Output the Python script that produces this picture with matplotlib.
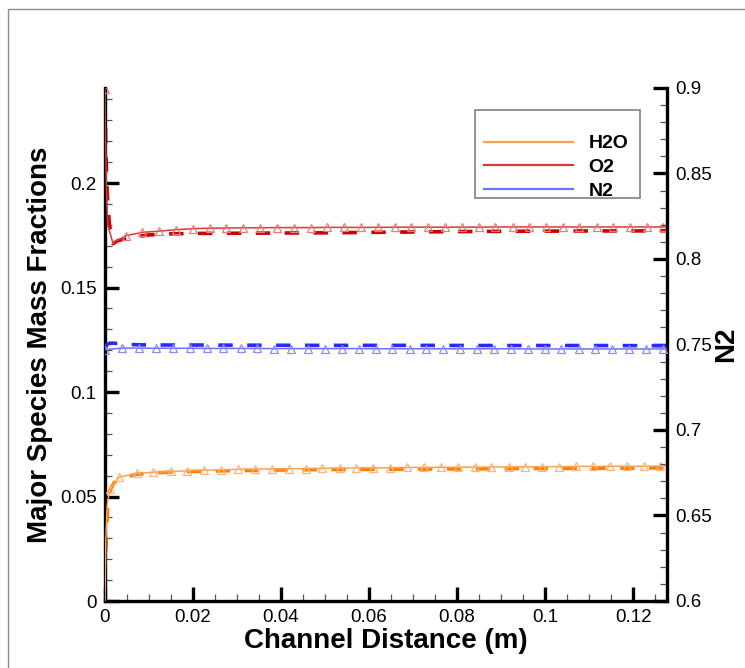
import matplotlib
matplotlib.use("Agg")
import matplotlib.pyplot as plt
from matplotlib.lines import Line2D
from matplotlib.patches import Rectangle
from matplotlib.ticker import MultipleLocator, FuncFormatter

plt.rcParams['font.family'] = ['Liberation Sans', 'DejaVu Sans']

## channel profiles (x in m), solid = with symbols, dashed = second case
h2o_x = [0.0, 0.0002, 0.0005, 0.0011, 0.0032,
         0.0072, 0.0110, 0.0149, 0.0187, 0.0226, 0.0264, 0.0302, 0.0341, 0.0379, 0.0418,
         0.0456, 0.0494, 0.0533, 0.0571, 0.0610, 0.0648, 0.0686, 0.0725, 0.0763, 0.0802,
         0.0840, 0.0878, 0.0917, 0.0955, 0.0994, 0.1032, 0.1070, 0.1109, 0.1147, 0.1186,
         0.1224, 0.1262, 0.1277]
h2o_y = [0.0, 0.030, 0.046, 0.0536, 0.0593,
         0.0611, 0.0616, 0.0620, 0.0623, 0.0626, 0.0628, 0.0630, 0.0631, 0.0632, 0.0633,
         0.0634, 0.0635, 0.0636, 0.0637, 0.0637, 0.0638, 0.0639, 0.0639, 0.0640, 0.0640,
         0.0641, 0.0641, 0.0642, 0.0642, 0.0643, 0.0643, 0.0644, 0.0644, 0.0645, 0.0645,
         0.0645, 0.0646, 0.0646]
h2o_dash_x = [0.0, 0.0003, 0.0006, 0.001, 0.002, 0.004, 0.007, 0.010, 0.015, 0.020, 0.030,
              0.040, 0.050, 0.060, 0.070, 0.080, 0.090, 0.100, 0.110, 0.120, 0.1277]
h2o_dash_y = [0.010, 0.030, 0.045, 0.052, 0.0565, 0.059, 0.0606, 0.0612, 0.0617, 0.0620, 0.0624,
              0.0627, 0.0629, 0.0630, 0.0631, 0.0632, 0.0633, 0.0634, 0.0635, 0.0636, 0.0637]

o2_x = [0.0, 0.0001, 0.0003, 0.0006, 0.0018,
        0.0047, 0.0085, 0.0123, 0.0162, 0.0200, 0.0238, 0.0276, 0.0314, 0.0353, 0.0391,
        0.0429, 0.0467, 0.0505, 0.0544, 0.0582, 0.0620, 0.0658, 0.0696, 0.0735, 0.0773,
        0.0811, 0.0849, 0.0887, 0.0926, 0.0964, 0.1002, 0.1040, 0.1078, 0.1117, 0.1155,
        0.1193, 0.1231, 0.1269, 0.1277]
o2_y = [0.245, 0.225, 0.200, 0.180, 0.1713,
        0.1748, 0.1764, 0.1770, 0.1777, 0.1782, 0.1784, 0.1785, 0.1786, 0.1786, 0.1787,
        0.1787, 0.1787, 0.1788, 0.1788, 0.1788, 0.1788, 0.1789, 0.1789, 0.1789, 0.1789,
        0.1789, 0.1789, 0.1790, 0.1790, 0.1790, 0.1790, 0.1790, 0.1790, 0.1790, 0.1790,
        0.1790, 0.1790, 0.1790, 0.1790]
o2_dash_x = [0.0, 0.0002, 0.0005, 0.001, 0.0018, 0.003, 0.006, 0.010, 0.015, 0.020, 0.030,
             0.040, 0.050, 0.060, 0.070, 0.080, 0.090, 0.100, 0.110, 0.120, 0.1277]
o2_dash_y = [0.240, 0.215, 0.195, 0.180, 0.1710, 0.1725, 0.1740, 0.1752, 0.1757, 0.1759, 0.1760,
             0.1761, 0.1762, 0.1764, 0.1766, 0.1768, 0.1769, 0.1770, 0.1771, 0.1771, 0.1772]

n2_x = [0.0,
        0.0039, 0.0077, 0.0116, 0.0154, 0.0193, 0.0231, 0.0269, 0.0308, 0.0346, 0.0385,
        0.0423, 0.0461, 0.0500, 0.0538, 0.0577, 0.0615, 0.0653, 0.0692, 0.0730, 0.0769,
        0.0807, 0.0845, 0.0884, 0.0922, 0.0961, 0.0999, 0.1037, 0.1076, 0.1114, 0.1153,
        0.1191, 0.1229, 0.1268, 0.1277]
n2_y = [0.7470,
        0.7479, 0.7479, 0.7478, 0.7478, 0.7478, 0.7477, 0.7477, 0.7477, 0.7477, 0.7476,
        0.7476, 0.7476, 0.7476, 0.7476, 0.7476, 0.7475, 0.7475, 0.7475, 0.7475, 0.7475,
        0.7475, 0.7475, 0.7475, 0.7475, 0.7474, 0.7474, 0.7474, 0.7474, 0.7474, 0.7474,
        0.7474, 0.7474, 0.7474, 0.7474]
n2_dash_x = [0.0, 0.0005, 0.001, 0.002, 0.003, 0.005, 0.008, 0.012, 0.020, 0.030, 0.050,
             0.070, 0.090, 0.110, 0.1277]
n2_dash_y = [0.7480, 0.7500, 0.7507, 0.7508, 0.7505, 0.7500, 0.7498, 0.7497, 0.7497, 0.7496,
             0.7495, 0.7495, 0.7494, 0.7494, 0.7493]

species = ['H2O', 'O2', 'N2']
line_colors = ['#ffa24f', '#d63a3a', '#6f6fff']
dash_colors = ['#ff7f00', '#cc0000', '#2a2aff']
sym_colors = ['#ffb27a', '#ea7a7a', '#8a8aff']

X_MAX = 0.1277


def draw_species(ax, x, y, dx, dy, i, mark_idx):
    # thick dashed profile underneath, thin line with open triangles on top
    ax.plot(dx, dy, color=dash_colors[i], lw=2.6, dashes=(4, 4), solid_capstyle='butt',
            dash_capstyle='butt', zorder=2)
    ax.plot(x, y, color=line_colors[i], lw=1.1, zorder=3)
    ax.plot([x[k] for k in mark_idx], [y[k] for k in mark_idx], ls='none', marker='^',
            ms=6, mfc='none', mec=sym_colors[i], mew=0.9, zorder=4)


def style_axis(ax):
    ax.tick_params(which='major', direction='in', length=10, width=2.4, labelsize=13.5, pad=6)
    ax.tick_params(which='minor', direction='in', length=5, width=0.9, color='#555555')


fig = plt.figure(figsize=(7.45, 6.68), dpi=100)
ax = fig.add_axes([105 / 745, 1 - 601 / 668, 562 / 745, 513 / 668])
ax2 = ax.twinx()

draw_species(ax, h2o_x, h2o_y, h2o_dash_x, h2o_dash_y, 0, list(range(3, len(h2o_x) - 1)))
draw_species(ax, o2_x, o2_y, o2_dash_x, o2_dash_y, 1, [0] + list(range(5, len(o2_x) - 1)))
draw_species(ax2, n2_x, n2_y, n2_dash_x, n2_dash_y, 2, list(range(0, len(n2_x) - 1)))

ax.set_xlim(0, X_MAX)
ax.set_ylim(0, 0.2455)
ax2.set_ylim(0.6, 0.9)

fmt = FuncFormatter(lambda v, p: '%g' % round(v, 4))
ax.xaxis.set_major_locator(MultipleLocator(0.02))
ax.xaxis.set_minor_locator(MultipleLocator(0.005))
ax.yaxis.set_major_locator(MultipleLocator(0.05))
ax.yaxis.set_minor_locator(MultipleLocator(0.01))
ax2.yaxis.set_major_locator(MultipleLocator(0.05))
ax2.yaxis.set_minor_locator(MultipleLocator(0.01))
for a in (ax.xaxis, ax.yaxis, ax2.yaxis):
    a.set_major_formatter(fmt)

style_axis(ax)
style_axis(ax2)

for a in (ax, ax2):
    a.spines['top'].set_visible(False)
    for s in a.spines.values():
        s.set_linewidth(2.4)
ax.spines['right'].set_visible(False)
ax2.spines['left'].set_visible(False)
ax2.spines['bottom'].set_visible(False)

ax.set_xlabel('Channel Distance (m)', fontsize=20, fontweight='bold', labelpad=1)
ax.set_ylabel('Major Species Mass Fractions', fontsize=20, fontweight='bold', labelpad=5)
ax2.set_ylabel('N2', fontsize=20, fontweight='bold', labelpad=1)

# legend box drawn by hand so the spacing follows the original layout
ax.add_patch(Rectangle((0.658, 0.786), 0.294, 0.171, transform=ax.transAxes, fill=False,
                       edgecolor='#808080', lw=1.2, zorder=5, clip_on=False))
handles = [Line2D([], [], color=c, lw=1.6) for c in line_colors]
leg = ax.legend(handles, species, loc='upper left', bbox_to_anchor=(0.66, 0.924),
                frameon=False, handlelength=4.6, handletextpad=0.8, labelspacing=0.32,
                borderaxespad=0, prop={'weight': 'bold', 'size': 14})
leg.set_zorder(6)

# thin frame round the whole picture
fig.add_artist(Rectangle((8 / 745, -0.05), 1.05, 1 - 9 / 668 + 0.05, transform=fig.transFigure,
                         fill=False, edgecolor='#8c8c8c', lw=1.0))

fig.savefig('out.png', dpi=100)
